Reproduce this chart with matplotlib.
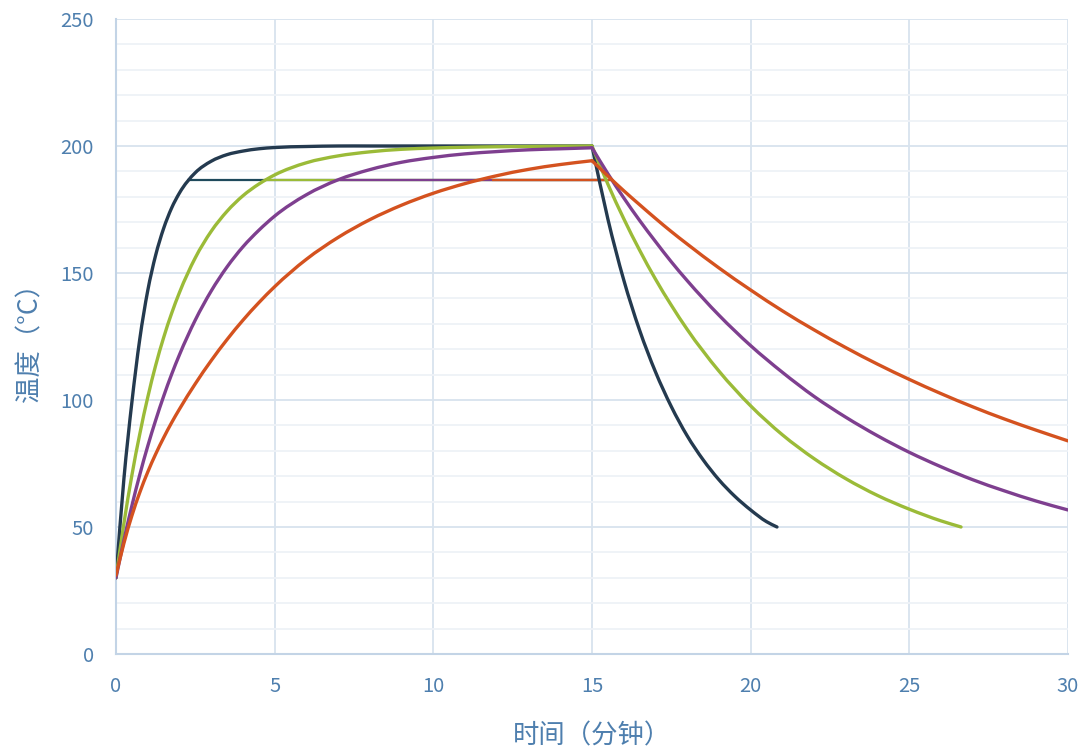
import numpy as np
import matplotlib.pyplot as plt
from matplotlib.path import Path
from matplotlib.patches import PathPatch
from matplotlib.ticker import MultipleLocator

plt.rcParams['font.family'] = ['Noto Sans CJK SC', 'DejaVu Sans']

# heating phase, shared time grid (minutes)
heat_t = [0, 0.25, 0.5, 0.75, 1, 1.25, 1.5, 1.75, 2, 2.5, 3, 3.5, 4, 4.5,
          5, 6, 7, 8, 9, 10, 11, 12, 13, 14, 15]
dark_heat = [30, 69, 99, 124, 143, 157, 167.5, 175.5, 181.5, 189.5, 194, 196.6, 198, 198.9,
             199.4, 199.8, 200, 200, 200, 200, 200, 200, 200, 200, 200]
green_heat = [30, 51.4, 70.3, 86.6, 101, 113.6, 124.5, 134, 142.3, 156, 166.4, 174.3, 180.4, 185,
              188.6, 193.4, 196.1, 197.7, 198.7, 199.2, 199.5, 199.7, 199.8, 199.9, 200]
purple_heat = [30, 44.8, 58.3, 70.6, 81.8, 92, 101.4, 110, 117.8, 131.5, 142.9, 152.4, 160.3, 166.8,
               172.4, 180.8, 186.7, 190.7, 193.6, 195.5, 196.9, 197.8, 198.5, 198.9, 199.3]
orange_heat = [31, 43.6, 54.4, 63.6, 71.6, 78.7, 85.1, 91, 96.4, 106.4, 115.5, 123.8, 131.4, 138.3,
               144.6, 155.4, 164, 171, 176.7, 181.4, 185.2, 188.3, 190.8, 192.7, 194.2]

# cooling phase
dark_cool_t = [15, 15.5, 16, 16.5, 17, 17.5, 18, 18.5, 19, 19.5, 20, 20.5, 20.83]
dark_cool = [200, 171.3, 147.3, 127.5, 111.1, 97.4, 85.9, 76.5, 68.6, 62.1, 56.7, 52.1, 50]

green_cool_t = [15, 15.5, 16, 16.5, 17, 17.5, 18, 19, 20, 21, 22, 23, 24, 25, 26, 26.63]
green_cool = [200, 185, 171.4, 159, 147.6, 137.3, 127.8, 111.4, 97.7, 86.3, 76.9, 69, 62.4, 57, 52.4, 50]

long_cool_t = [15, 15.5, 16, 16.5, 17, 17.5, 18, 19, 20, 21, 22, 23, 24, 25, 26, 27, 28, 29, 30]
purple_cool = [199.3, 189.1, 179.6, 170.7, 162.4, 154.4, 147, 133.4, 121.4, 110.9, 101.4, 93.2,
               85.9, 79.4, 73.7, 68.6, 64.2, 60.2, 56.7]
orange_cool = [194.2, 188.2, 182.4, 176.9, 171.5, 166.3, 161.4, 152, 143.3, 135.1, 127.6, 120.6,
               114.1, 108.1, 102.5, 97.3, 92.5, 88.1, 83.9]

# hold level line: start / end time for each series
hold_level = 186.6
hold_start = [2.25, 4.75, 7.06, 11.85]
hold_end = [15.45, 15.55, 15.6, 15.62]

colors = ['#243a4f', '#9bbb38', '#7e3f8f', '#d4521f']
heats = [dark_heat, green_heat, purple_heat, orange_heat]
cools = [(dark_cool_t, dark_cool), (green_cool_t, green_cool),
         (long_cool_t, purple_cool), (long_cool_t, orange_cool)]


def smooth_path(x, y):
    # smoothed line through the points (cubic bezier, like a spreadsheet "smoothed line")
    x = np.asarray(x, float)
    y = np.asarray(y, float)
    m = np.gradient(y, x)
    verts = [(x[0], y[0])]
    codes = [Path.MOVETO]
    for i in range(len(x) - 1):
        h = x[i + 1] - x[i]
        verts += [(x[i] + h / 3, y[i] + m[i] * h / 3),
                  (x[i + 1] - h / 3, y[i + 1] - m[i + 1] * h / 3),
                  (x[i + 1], y[i + 1])]
        codes += [Path.CURVE4] * 3
    return Path(verts, codes)


fig = plt.figure(figsize=(10.86, 7.48), dpi=100)
ax = fig.add_axes([0.1068, 0.1257, 0.8766, 0.8489])

for i in range(4):
    hcol = '#1f4a5c' if i == 0 else colors[i]
    ax.plot([hold_start[i], hold_end[i]], [hold_level, hold_level], color=hcol, lw=1.6,
            solid_capstyle='butt', zorder=2)

for i in range(4):
    ct, cv = cools[i]
    for px, py in [(heat_t, heats[i]), (ct, cv)]:
        ax.add_patch(PathPatch(smooth_path(px, py), facecolor='none', edgecolor=colors[i],
                               lw=2.4, joinstyle='round', capstyle='round', zorder=3 + i))

ax.set_xlim(0, 30)
ax.set_ylim(0, 250)
ax.xaxis.set_major_locator(MultipleLocator(5))
ax.yaxis.set_major_locator(MultipleLocator(50))
ax.yaxis.set_minor_locator(MultipleLocator(10))
ax.grid(which='major', color='#d8e3ee', lw=1.3, zorder=0)
ax.grid(which='minor', axis='y', color='#eef2f7', lw=1.3, zorder=0)
ax.set_axisbelow(True)

for s in ['top', 'right']:
    ax.spines[s].set_visible(False)
for s in ['left', 'bottom']:
    ax.spines[s].set_color('#c3d4e6')
    ax.spines[s].set_linewidth(1.5)

lab_col = '#4e7fae'
ax.tick_params(which='both', length=0, colors=lab_col, labelsize=14.5)
ax.tick_params(axis='y', pad=16)
ax.tick_params(axis='x', pad=16)

ax.set_xlabel('时间（分钟）', color=lab_col, fontsize=19, labelpad=18)
ax.set_ylabel('温度（°C）', color=lab_col, fontsize=19, labelpad=12)

fig.savefig('out.png', dpi=100, facecolor='white')
